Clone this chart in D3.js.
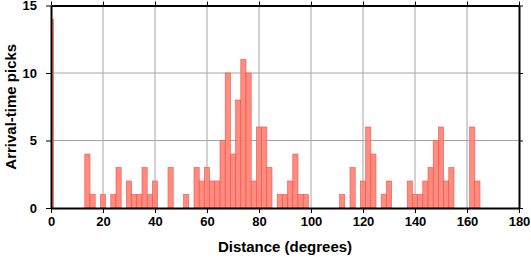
<!DOCTYPE html>
<html>
<head>
<meta charset="utf-8">
<script src="https://cdn.jsdelivr.net/npm/d3@7.9.0/dist/d3.min.js"></script>
<style>
  body { margin: 0; background: #fff; }
  svg { display: block; font-family: "Liberation Sans", Arial, sans-serif; font-weight: bold; }
</style>
</head>
<body>
<div id="chart"></div>
<script>
// bin centres (degrees), bins are 2 degrees wide
const binCenters = [0, 14, 16, 20, 24, 26, 30, 32, 34, 36, 38, 40, 46, 52, 56, 58, 60, 62, 64, 66, 68, 70,
  72, 74, 76, 78, 80, 82, 84, 88, 90, 92, 94, 96, 98, 112, 116, 120, 122, 124, 128, 130,
  138, 140, 142, 144, 146, 148, 150, 152, 154, 162, 164];
const picks = [14, 4, 1, 1, 1, 3, 2, 1, 1, 3, 1, 2, 3, 1, 3, 2, 3, 2, 2, 5, 10, 4,
  8, 11, 10, 2, 6, 6, 3, 1, 1, 2, 4, 1, 1, 1, 3, 2, 6, 4, 1, 2,
  2, 1, 1, 2, 3, 5, 6, 2, 3, 6, 2];
const xTicks = [0, 20, 40, 60, 80, 100, 120, 140, 160, 180];
const yTicks = [0, 5, 10, 15];
const binWidth = 2;

const width = 531, height = 258;
const margin = { top: 5.5, right: 12, bottom: 50, left: 51 };

const svg = d3.select('#chart').append('svg')
  .attr('width', width)
  .attr('height', height);

const x = d3.scaleLinear().domain([0, 180]).range([margin.left, width - margin.right]);
const y = d3.scaleLinear().domain([0, 15]).range([height - margin.bottom, margin.top]);

svg.append('clipPath').attr('id', 'plot')
  .append('rect')
  .attr('x', x(0)).attr('y', y(15))
  .attr('width', x(180) - x(0)).attr('height', y(0) - y(15));

// grid
const grid = svg.append('g').attr('stroke', '#a6a6a6').attr('stroke-width', 1);
grid.selectAll('.gx')
  .data(xTicks.slice(1, -1))
  .enter().append('line')
  .attr('x1', d => x(d)).attr('x2', d => x(d))
  .attr('y1', y(0)).attr('y2', y(15));
grid.selectAll('.gy')
  .data(yTicks.slice(1, -1))
  .enter().append('line')
  .attr('x1', x(0)).attr('x2', x(180))
  .attr('y1', d => y(d)).attr('y2', d => y(d));

// bars
svg.append('g')
  .attr('clip-path', 'url(#plot)')
  .selectAll('rect')
  .data(binCenters)
  .enter().append('rect')
  .attr('x', d => x(d - binWidth / 2))
  .attr('width', x(binWidth) - x(0))
  .attr('y', (d, i) => y(picks[i]))
  .attr('height', (d, i) => y(0) - y(picks[i]))
  .attr('fill', '#ff7f70')
  .attr('fill-opacity', 0.9)
  .attr('stroke', '#f2504a')
  .attr('stroke-width', 0.6);

// axes
function styleAxis(g) {
  g.select('.domain').attr('stroke', '#000').attr('stroke-width', 2);
  g.selectAll('.tick line').attr('stroke', '#000').attr('stroke-width', 1);
  g.selectAll('text').attr('font-size', 13).attr('fill', '#000')
    .attr('font-family', '"Liberation Sans", Arial, sans-serif').attr('font-weight', 'bold');
}

svg.append('g')
  .attr('transform', `translate(0,${y(0)})`)
  .call(d3.axisBottom(x).tickValues(xTicks).tickSize(5).tickPadding(4).tickSizeOuter(0))
  .call(styleAxis);
svg.append('g')
  .attr('transform', `translate(0,${y(15)})`)
  .call(d3.axisTop(x).tickValues(xTicks).tickSize(4).tickFormat('').tickSizeOuter(0))
  .call(styleAxis);
svg.append('g')
  .attr('transform', `translate(${x(0)},0)`)
  .call(d3.axisLeft(y).tickValues(yTicks).tickSize(5).tickPadding(9).tickSizeOuter(0))
  .call(styleAxis);
svg.append('g')
  .attr('transform', `translate(${x(180)},0)`)
  .call(d3.axisRight(y).tickValues(yTicks).tickSize(4).tickFormat('').tickSizeOuter(0))
  .call(styleAxis);

// titles
svg.append('text')
  .attr('x', (x(0) + x(180)) / 2)
  .attr('y', 252)
  .attr('text-anchor', 'middle')
  .attr('font-size', 15)
  .text('Distance (degrees)');

svg.append('text')
  .attr('transform', `translate(16,${(y(0) + y(15)) / 2}) rotate(-90)`)
  .attr('text-anchor', 'middle')
  .attr('font-size', 15)
  .text('Arrival-time picks');
</script>
</body>
</html>
